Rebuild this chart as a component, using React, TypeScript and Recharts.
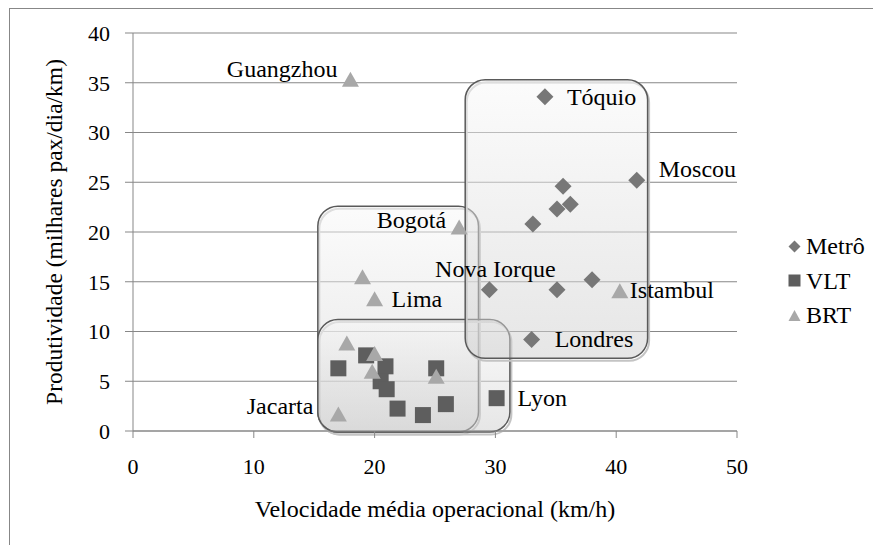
import {
  ScatterChart,
  Scatter,
  XAxis,
  YAxis,
  CartesianGrid,
  ReferenceArea,
  Label,
} from "recharts";

const xTicks = [0, 10, 20, 30, 40, 50];
const yTicks = [0, 5, 10, 15, 20, 25, 30, 35, 40];

const metroX = [34.1, 41.7, 35.6, 35.1, 36.2, 33.1, 29.5, 35.1, 38.0, 33.0];
const metroY = [33.6, 25.2, 24.6, 22.3, 22.8, 20.8, 14.2, 14.2, 15.2, 9.2];
const metroNames = ["Tóquio", "Moscou", "", "", "", "", "Nova Iorque", "", "", "Londres"];

const vltX = [17.0, 19.3, 20.9, 20.5, 21.0, 21.9, 24.0, 25.1, 25.9, 30.1];
const vltY = [6.3, 7.6, 6.5, 5.0, 4.2, 2.25, 1.6, 6.3, 2.7, 3.3];
const vltNames = ["", "", "", "", "", "", "", "", "", "Lyon"];

const brtX = [18.0, 27.0, 19.0, 20.0, 17.7, 20.0, 19.8, 25.1, 17.0, 40.3];
const brtY = [35.35, 20.5, 15.5, 13.3, 8.85, 7.8, 6.0, 5.5, 1.7, 14.1];
const brtNames = ["Guangzhou", "Bogotá", "", "Lima", "", "", "", "", "Jacarta", "Istambul"];

// grouping boxes drawn over the points (data units)
const groupBoxes = [
  { name: "BRT", x1: 15.3, x2: 28.6, y1: -0.1, y2: 22.6 },
  { name: "VLT", x1: 15.3, x2: 31.2, y1: -0.1, y2: 11.2 },
  { name: "Metrô", x1: 27.5, x2: 42.6, y1: 7.3, y2: 35.3 },
];

const toRows = (xs: number[], ys: number[], names: string[]) =>
  xs.map((x, i) => ({ x, y: ys[i], name: names[i] }));

const metroData = toRows(metroX, metroY, metroNames);
const vltData = toRows(vltX, vltY, vltNames);
const brtData = toRows(brtX, brtY, brtNames);

const FONT = "Liberation Serif, Times New Roman, serif";
const AXIS = "#878787";
const METRO = "#777777";
const VLT = "#5e5e5e";
const BRT = "#a8a8a8";

const labelPlacement: Record<string, { dx: number; dy: number; anchor: "start" | "middle" | "end" }> = {
  Guangzhou: { dx: -13, dy: -2, anchor: "end" },
  "Bogotá": { dx: -13, dy: 1, anchor: "end" },
  "Tóquio": { dx: 22, dy: 8, anchor: "start" },
  Moscou: { dx: 22, dy: -3, anchor: "start" },
  "Nova Iorque": { dx: 6, dy: -13, anchor: "middle" },
  Istambul: { dx: 10, dy: 7, anchor: "start" },
  Lima: { dx: 17, dy: 8, anchor: "start" },
  Jacarta: { dx: -25, dy: 0, anchor: "end" },
  Lyon: { dx: 21, dy: 8, anchor: "start" },
  Londres: { dx: 23, dy: 8, anchor: "start" },
};

const pointLabel = (cx: number, cy: number, name?: string) => {
  if (!name) return null;
  const p = labelPlacement[name] ?? { dx: 12, dy: 6, anchor: "start" };
  return (
    <text x={cx + p.dx} y={cy + p.dy} textAnchor={p.anchor} fontFamily={FONT} fontSize={24} fill="#000">
      {name}
    </text>
  );
};

const Diamond = (props: any) => {
  const { cx, cy, payload } = props;
  const r = 8.5;
  return (
    <g>
      <polygon points={`${cx},${cy - r} ${cx + r},${cy} ${cx},${cy + r} ${cx - r},${cy}`} fill={METRO} />
      {pointLabel(cx, cy, payload?.name)}
    </g>
  );
};

const Square = (props: any) => {
  const { cx, cy, payload } = props;
  const s = 16;
  return (
    <g>
      <rect x={cx - s / 2} y={cy - s / 2} width={s} height={s} fill={VLT} />
      {pointLabel(cx, cy, payload?.name)}
    </g>
  );
};

const Triangle = (props: any) => {
  const { cx, cy, payload } = props;
  const w = 17;
  const h = 15;
  return (
    <g>
      <polygon
        points={`${cx},${cy - h / 2} ${cx + w / 2},${cy + h / 2} ${cx - w / 2},${cy + h / 2}`}
        fill={BRT}
      />
      {pointLabel(cx, cy, payload?.name)}
    </g>
  );
};

const RoundedBox = (props: any) => {
  const { x, y, width, height } = props;
  return (
    <g>
      <rect
        x={x + 1.5}
        y={y + 2.5}
        width={width}
        height={height}
        rx={20}
        ry={20}
        fill="none"
        stroke="#c4c4c4"
        strokeWidth={2}
      />
      <rect
        x={x}
        y={y}
        width={width}
        height={height}
        rx={20}
        ry={20}
        fill="url(#boxFill)"
        fillOpacity={0.5}
        stroke="#5a5a5a"
        strokeWidth={1.5}
      />
    </g>
  );
};

const legendItems = [
  { label: "Metrô", shape: "diamond", color: METRO },
  { label: "VLT", shape: "square", color: VLT },
  { label: "BRT", shape: "triangle", color: BRT },
];

const LegendIcon = ({ shape, color }: { shape: string; color: string }) => (
  <svg width={13} height={13} style={{ marginRight: 5 }}>
    {shape === "diamond" && <polygon points="6.5,0.5 12.5,6.5 6.5,12.5 0.5,6.5" fill={color} />}
    {shape === "square" && <rect x={0.5} y={0.5} width={12} height={12} fill={color} />}
    {shape === "triangle" && <polygon points="6.5,1 12.5,12 0.5,12" fill={color} />}
  </svg>
);

const App = () => {
  return (
    <div style={{ position: "relative", width: 873, height: 537, overflow: "hidden", background: "#fff" }}>
      <div
        style={{
          position: "absolute",
          left: 1,
          top: 0,
          width: 900,
          height: 600,
          border: `1px solid ${AXIS}`,
          boxSizing: "border-box",
        }}
      />
      <div style={{ position: "absolute", left: 0, top: 0 }}>
        <ScatterChart width={865} height={529} margin={{ top: 25, right: 136, left: 0, bottom: 0 }}>
          <defs>
            <linearGradient id="boxFill" x1="0" y1="0" x2="0" y2="1">
              <stop offset="0%" stopColor="#f8f8f8" />
              <stop offset="100%" stopColor="#cdcdcd" />
            </linearGradient>
          </defs>
          <CartesianGrid vertical={false} stroke={AXIS} strokeWidth={1} />
          <XAxis
            type="number"
            dataKey="x"
            domain={[0, 50]}
            ticks={xTicks}
            height={106}
            stroke={AXIS}
            tickSize={7}
            tickMargin={20}
            tick={{ fill: "#000", fontFamily: FONT, fontSize: 22 }}
          >
            <Label
              content={({ viewBox }: any) => (
                <text
                  x={viewBox.x + viewBox.width / 2}
                  y={viewBox.y + 86}
                  textAnchor="middle"
                  fontFamily={FONT}
                  fontSize={24}
                >
                  Velocidade média operacional (km/h)
                </text>
              )}
            />
          </XAxis>
          <YAxis
            type="number"
            dataKey="y"
            domain={[0, 40]}
            ticks={yTicks}
            width={125}
            stroke={AXIS}
            tickSize={8}
            tickMargin={15}
            tick={{ fill: "#000", fontFamily: FONT, fontSize: 22 }}
          >
            <Label
              content={({ viewBox }: any) => {
                const cx = viewBox.x + 46;
                const cy = viewBox.y + viewBox.height / 2;
                return (
                  <text
                    transform={`translate(${cx},${cy}) rotate(-90)`}
                    textAnchor="middle"
                    dominantBaseline="central"
                    fontFamily={FONT}
                    fontSize={23.5}
                  >
                    Produtividade (milhares pax/dia/km)
                  </text>
                );
              }}
            />
          </YAxis>
          {groupBoxes.map((b) => (
            <ReferenceArea
              key={b.name}
              x1={b.x1}
              x2={b.x2}
              y1={b.y1}
              y2={b.y2}
              ifOverflow="visible"
              shape={RoundedBox}
            />
          ))}
          <Scatter name="Metrô" data={metroData} shape={Diamond} isAnimationActive={false} />
          <Scatter name="VLT" data={vltData} shape={Square} isAnimationActive={false} />
          <Scatter name="BRT" data={brtData} shape={Triangle} isAnimationActive={false} />
        </ScatterChart>
      </div>
      <div
        style={{
          position: "absolute",
          left: 780,
          top: 221,
          fontFamily: FONT,
          fontSize: 24,
          lineHeight: "34.5px",
        }}
      >
        {legendItems.map((it) => (
          <div key={it.label} style={{ display: "flex", alignItems: "center" }}>
            <LegendIcon shape={it.shape} color={it.color} />
            <span>{it.label}</span>
          </div>
        ))}
      </div>
    </div>
  );
};

export default App;
